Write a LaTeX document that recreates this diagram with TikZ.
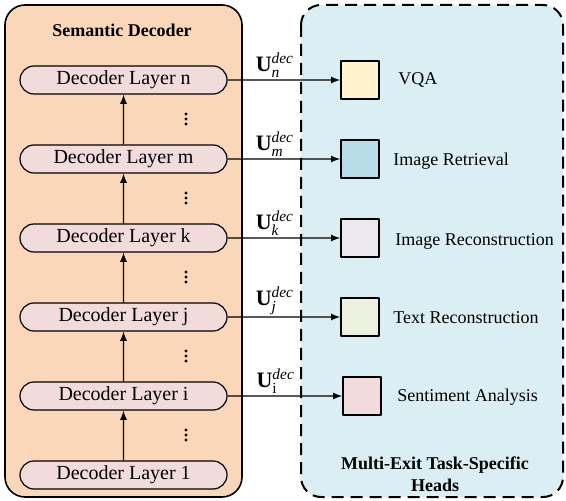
\documentclass[tikz,border=0pt]{standalone}
\usepackage{fontspec}
\usepackage{amsmath}
\setmainfont{Liberation Serif}
\usetikzlibrary{shapes.misc}
\definecolor{decbg}{RGB}{250,215,185}
\definecolor{headbg}{RGB}{218,238,243}
\definecolor{layerfill}{RGB}{242,220,219}
\definecolor{vqacol}{RGB}{255,242,204}
\definecolor{retcol}{RGB}{183,221,232}
\definecolor{imgcol}{RGB}{235,232,240}
\definecolor{txtcol}{RGB}{235,241,222}
\definecolor{sentcol}{RGB}{242,220,219}
\begin{document}
\begin{tikzpicture}[x=0.5pt, y=-0.5pt, line join=round, >=latex, font=\fontsize{10}{12}\selectfont]
\useasboundingbox (0,0) rectangle (566,501);
\tikzset{layer/.style={rounded rectangle, draw, line width=0.6pt, fill=layerfill, minimum width=103.5pt, minimum height=14pt, inner sep=0pt},
	head/.style={draw, line width=0.8pt, minimum size=19pt, inner sep=0pt},
	tasklbl/.style={anchor=west, inner sep=0pt, font=\fontsize{9}{11}\selectfont},
	exitlbl/.style={above=1pt, pos=0.42, inner sep=0pt, font=\fontsize{11}{13}\selectfont},
	boldlbl/.style={font=\bfseries\fontsize{9}{11}\selectfont}}
% panels
\draw[line width=0.8pt, fill=decbg, rounded corners=10pt] (5,5) rectangle (242,497);
\draw[line width=1pt, dash pattern=on 6pt off 3.5pt, fill=headbg, rounded corners=10pt] (301,5) rectangle (563,497);
\node[boldlbl] (ttl) at (122,30) {Semantic Decoder};
\node[boldlbl, align=center] (hds) at (435,474) {Multi-Exit Task-Specific\\Heads};
% decoder layers
\node[layer] (ln) at (123.5,80) {Decoder Layer n};
\node[layer] (lm) at (123.5,159) {Decoder Layer m};
\node[layer] (lk) at (123.5,238) {Decoder Layer k};
\node[layer] (lj) at (123.5,317) {Decoder Layer j};
\node[layer] (li) at (123.5,396) {Decoder Layer i};
\node[layer] (l1) at (123.5,475) {Decoder Layer 1};
\foreach \a/\b in {l1/li, li/lj, lj/lk, lk/lm, lm/ln}
	\draw[->, line width=0.6pt] (\a) -- (\b);
\foreach \y in {119,198,277,356,435}
	\foreach \d in {-5,0,5}
		\fill (186,\y+\d) circle (0.8pt);
% task heads
\node[head, fill=vqacol] (hn) at (360,80) {};
\node[head, fill=retcol] (hm) at (360,159) {};
\node[head, fill=imgcol] (hk) at (360,238) {};
\node[head, fill=txtcol] (hj) at (360,317) {};
\node[head, fill=sentcol] (hi) at (362,396) {};
\node[tasklbl] (tn) at (398,80) {VQA};
\node[tasklbl] (tm) at (393,161) {Image Retrieval};
\node[tasklbl] (tk) at (395,241) {Image Reconstruction};
\node[tasklbl] (tj) at (393,318) {Text Reconstruction};
\node[tasklbl] (ti) at (397,397) {Sentiment Analysis};
% exits
\draw[->, line width=0.6pt] (ln) -- node[exitlbl] {$\textbf{U}^{\textit{dec}}_{\textit{n}}$} (hn);
\draw[->, line width=0.6pt] (lm) -- node[exitlbl] {$\textbf{U}^{\textit{dec}}_{\textit{m}}$} (hm);
\draw[->, line width=0.6pt] (lk) -- node[exitlbl] {$\textbf{U}^{\textit{dec}}_{\textit{k}}$} (hk);
\draw[->, line width=0.6pt] (lj) -- node[exitlbl] {$\textbf{U}^{\textit{dec}}_{\textit{j}}$} (hj);
\draw[->, line width=0.6pt] (li) -- node[exitlbl] {$\textbf{U}^{\textit{dec}}_{\text{i}}$} (hi);
\end{tikzpicture}
\end{document}
